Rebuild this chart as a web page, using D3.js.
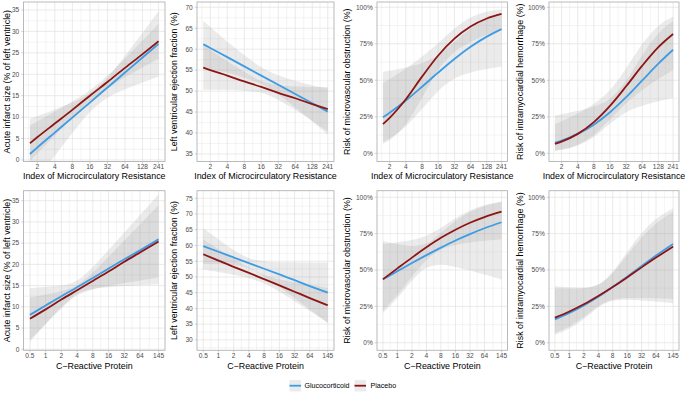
<!DOCTYPE html>
<html><head><meta charset="utf-8">
<script src="https://cdn.jsdelivr.net/npm/d3@7"></script>
<style>
body{margin:0;background:#fff}
svg{display:block}
text{font-family:"Liberation Sans",Arial,Helvetica,sans-serif}
</style>
</head><body>
<svg id="chart" width="685" height="394"></svg>
<script>
// ---------------- data ----------------
const imrX = [1.5, 2, 4, 8, 16, 32, 64, 128, 241];
const crpX = [0.5, 1, 2, 4, 8, 16, 32, 64, 145];
const imrTicks = [2, 4, 8, 16, 32, 64, 128, 241];
const crpTicks = [0.5, 1, 2, 4, 8, 16, 32, 64, 145];
const infarctTicks = [0, 5, 10, 15, 20, 25, 30, 35];
const lvefTicksTop = [35, 40, 45, 50, 55, 60, 65, 70];
const lvefTicksBottom = [30, 35, 40, 45, 50, 55, 60, 65, 70, 75];
const pctTicks = [0, 25, 50, 75, 100];
const seriesNames = ["Glucocorticoid", "Placebo"];

// Panel 1: infarct size vs IMR
const p1GlucoFit = [1.4, 2.9, 6.4, 9.9, 13.4, 16.9, 20.4, 23.9, 27.1];
const p1GlucoLo  = [-6.8, -4.5, 1.0, 6.3, 11.2, 14.5, 16.5, 18.1, 19.5];
const p1GlucoHi  = [9.6, 10.2, 11.8, 13.4, 15.6, 19.2, 24.3, 29.7, 34.7];
const p1PlacFit  = [3.9, 5.3, 8.5, 11.7, 15.0, 18.2, 21.5, 24.7, 27.7];
const p1PlacLo   = [-0.3, 1.5, 5.7, 9.8, 13.7, 16.7, 19.3, 21.6, 23.6];
const p1PlacHi   = [8.1, 9.0, 11.3, 13.7, 16.3, 19.7, 23.7, 27.9, 31.8];
// Panel 2: LVEF vs IMR
const p2GlucoFit = [61.2, 60.3, 58.1, 55.9, 53.7, 51.5, 49.3, 47.1, 45.1];
const p2GlucoLo  = [55.7, 55.3, 54.4, 53.2, 51.7, 49.2, 46.1, 42.8, 39.6];
const p2GlucoHi  = [66.7, 65.3, 61.8, 58.6, 55.7, 53.8, 52.5, 51.4, 50.6];
const p2PlacFit  = [55.6, 55.0, 53.7, 52.3, 51.0, 49.6, 48.3, 46.9, 45.7];
const p2PlacLo   = [50.3, 50.3, 50.3, 50.1, 49.6, 47.9, 45.5, 42.9, 40.4];
const p2PlacHi   = [60.9, 59.8, 57.1, 54.6, 52.4, 51.4, 51.1, 51.0, 51.0];
// Panel 3: MVO risk vs IMR (%)
const p3GlucoFit = [24.7, 27.8, 36.2, 45.6, 55.3, 64.6, 72.9, 79.9, 85.0];
const p3GlucoLo  = [7.8, 10.2, 18.5, 30.3, 42.7, 51.0, 55.3, 57.8, 59.5];
const p3GlucoHi  = [55.8, 56.6, 58.7, 61.8, 67.3, 76.2, 85.5, 92.0, 95.6];
const p3PlacFit  = [20.0, 24.3, 37.0, 52.5, 67.0, 78.5, 86.8, 92.3, 95.4];
const p3PlacLo   = [6.4, 9.1, 19.9, 38.0, 57.3, 69.4, 76.3, 81.3, 85.0];
const p3PlacHi   = [47.9, 50.8, 58.1, 66.3, 75.4, 85.4, 93.0, 97.0, 98.7];
// Panel 4: IMH risk vs IMR (%)
const p4GlucoFit = [7.3, 8.7, 13.3, 19.6, 28.1, 38.4, 49.9, 61.4, 70.9];
const p4GlucoLo  = [1.8, 2.4, 5.4, 11.2, 20.3, 28.2, 32.6, 35.6, 37.9];
const p4GlucoHi  = [25.9, 26.8, 29.1, 32.1, 37.4, 49.6, 67.2, 82.0, 90.6];
const p4PlacFit  = [6.4, 8.0, 13.3, 21.4, 32.5, 45.9, 60.0, 72.7, 81.7];
const p4PlacLo   = [1.8, 2.6, 5.9, 12.6, 23.1, 34.3, 43.2, 50.8, 57.1];
const p4PlacHi   = [20.1, 22.0, 27.2, 33.9, 43.4, 58.1, 74.8, 87.2, 93.7];
// Panel 5: infarct size vs CRP
const p5GlucoFit = [8.1, 10.3, 12.5, 14.6, 16.8, 19.0, 21.2, 23.3, 25.9];
const p5GlucoLo  = [1.8, 5.9, 9.9, 13.0, 14.2, 14.6, 14.9, 15.1, 15.3];
const p5GlucoHi  = [14.4, 14.7, 15.0, 16.2, 19.4, 23.4, 27.5, 31.6, 36.5];
const p5PlacFit  = [7.2, 9.4, 11.7, 13.9, 16.1, 18.3, 20.6, 22.8, 25.4];
const p5PlacLo   = [2.2, 6.0, 9.6, 12.7, 14.1, 14.9, 15.6, 16.2, 16.9];
const p5PlacHi   = [12.2, 12.9, 13.7, 15.1, 18.1, 21.8, 25.6, 29.4, 33.9];
// Panel 6: LVEF vs CRP
const p6GlucoFit = [59.8, 58.0, 56.2, 54.4, 52.6, 50.8, 49.0, 47.1, 45.0];
const p6GlucoLo  = [54.1, 54.0, 53.8, 52.8, 50.1, 46.8, 43.3, 39.7, 35.4];
const p6GlucoHi  = [65.5, 62.0, 58.6, 56.0, 55.0, 54.7, 54.7, 54.6, 54.6];
const p6PlacFit  = [57.2, 55.2, 53.2, 51.3, 49.3, 47.3, 45.3, 43.3, 41.0];
const p6PlacLo   = [52.4, 51.6, 50.7, 49.6, 47.9, 45.3, 42.3, 39.2, 35.5];
const p6PlacHi   = [62.0, 58.9, 55.8, 53.0, 50.7, 49.3, 48.3, 47.5, 46.5];
// Panel 7: MVO risk vs CRP (%)
const p7GlucoFit = [43.6, 49.2, 54.8, 60.2, 65.4, 70.3, 74.7, 78.7, 82.8];
const p7GlucoLo  = [20.5, 30.8, 42.5, 51.6, 53.6, 52.1, 49.6, 46.9, 43.5];
const p7GlucoHi  = [69.9, 67.8, 66.5, 68.2, 75.6, 83.7, 89.9, 94.0, 96.8];
const p7PlacFit  = [43.6, 51.1, 58.5, 65.6, 72.1, 77.7, 82.5, 86.4, 90.1];
const p7PlacLo   = [22.1, 32.9, 45.3, 56.8, 64.0, 67.2, 68.9, 70.1, 71.2];
const p7PlacHi   = [67.8, 69.0, 70.6, 73.5, 79.0, 85.6, 90.9, 94.5, 97.1];
// Panel 8: IMH risk vs CRP (%)
const p8GlucoFit = [16.1, 20.5, 25.7, 31.6, 38.3, 45.4, 52.7, 59.9, 67.9];
const p8GlucoLo  = [5.5, 9.7, 16.3, 24.3, 28.8, 29.5, 29.1, 28.3, 27.2];
const p8GlucoHi  = [38.9, 38.1, 37.9, 40.0, 48.8, 62.3, 75.2, 85.0, 92.3];
const p8PlacFit  = [17.2, 21.5, 26.4, 32.1, 38.3, 44.9, 51.8, 58.5, 66.1];
const p8PlacLo   = [6.8, 11.2, 17.7, 25.1, 29.5, 30.7, 30.8, 30.6, 30.1];
const p8PlacHi   = [37.2, 37.1, 37.5, 39.9, 47.9, 60.1, 72.1, 81.9, 89.8];

// ---------------- layout & style ----------------
const colors = {Glucocorticoid: "#3E9CE5", Placebo: "#8E1515"};
const ribbonFill = "#999999", ribbonOpacity = 0.2;
const cols = [
  {L: 23.5, R: 165,   ty: 10.3},
  {L: 197,  R: 334,   ty: 177.3},
  {L: 377,  R: 507.5, ty: 350.3},
  {L: 549,  R: 679,   ty: 522.8}
];
const rows = [
  {T: 2,     B: 161.5, tickBase: 168.7, titleBase: 179},
  {T: 190.7, B: 350.3, tickBase: 358.3, titleBase: 368.7}
];
const imrLab = "Index of Microcirculatory Resistance";
const crpLab = "C\u2212Reactive Protein";

const panels = [
  {row:0,col:0,xv:imrX,xt:imrTicks,xlab:imrLab,ylab:"Acute infarct size (% of left ventricle)",yd:[-0.35,36.86],yt:infarctTicks,pct:false,
   s:[[p1GlucoFit,p1GlucoLo,p1GlucoHi],[p1PlacFit,p1PlacLo,p1PlacHi]]},
  {row:0,col:1,xv:imrX,xt:imrTicks,xlab:imrLab,ylab:"Left ventricular ejection fraction (%)",yd:[33.21,71.26],yt:lvefTicksTop,pct:false,
   s:[[p2GlucoFit,p2GlucoLo,p2GlucoHi],[p2PlacFit,p2PlacLo,p2PlacHi]]},
  {row:0,col:2,xv:imrX,xt:imrTicks,xlab:imrLab,ylab:"Risk of microvascular obstruction (%)",yd:[-5.6,103.6],yt:pctTicks,pct:true,
   s:[[p3GlucoFit,p3GlucoLo,p3GlucoHi],[p3PlacFit,p3PlacLo,p3PlacHi]]},
  {row:0,col:3,xv:imrX,xt:imrTicks,xlab:imrLab,ylab:"Risk of intramyocardial hemorrhage (%)",yd:[-5.6,103.6],yt:pctTicks,pct:true,
   s:[[p4GlucoFit,p4GlucoLo,p4GlucoHi],[p4PlacFit,p4PlacLo,p4PlacHi]]},
  {row:1,col:0,xv:crpX,xt:crpTicks,xlab:crpLab,ylab:"Acute infarct size (% of left ventricle)",yd:[-0.24,37.35],yt:infarctTicks,pct:false,
   s:[[p5GlucoFit,p5GlucoLo,p5GlucoHi],[p5PlacFit,p5PlacLo,p5PlacHi]]},
  {row:1,col:1,xv:crpX,xt:crpTicks,xlab:crpLab,ylab:"Left ventricular ejection fraction (%)",yd:[26.7,77.4],yt:lvefTicksBottom,pct:false,
   s:[[p6GlucoFit,p6GlucoLo,p6GlucoHi],[p6PlacFit,p6PlacLo,p6PlacHi]]},
  {row:1,col:2,xv:crpX,xt:crpTicks,xlab:crpLab,ylab:"Risk of microvascular obstruction (%)",yd:[-5.2,104.5],yt:pctTicks,pct:true,
   s:[[p7GlucoFit,p7GlucoLo,p7GlucoHi],[p7PlacFit,p7PlacLo,p7PlacHi]]},
  {row:1,col:3,xv:crpX,xt:crpTicks,xlab:crpLab,ylab:"Risk of intramyocardial hemorrhage (%)",yd:[-5.2,104.5],yt:pctTicks,pct:true,
   s:[[p8GlucoFit,p8GlucoLo,p8GlucoHi],[p8PlacFit,p8PlacLo,p8PlacHi]]}
];

const svg = d3.select("#chart");
svg.append("rect").attr("width",685).attr("height",394).attr("fill","#fff");

function minorBreaks(major, lo, hi){
  const b = major.slice();
  const bd = b[1]-b[0];
  if (lo < b[0]) b.unshift(b[0]-bd);
  if (hi > b[b.length-1]) b.push(b[b.length-1]+bd);
  const m = [];
  for (let i=0;i<b.length-1;i++) m.push((b[i]+b[i+1])/2);
  return m.filter(v => v>lo && v<hi);
}

panels.forEach((p, idx) => {
  const c = cols[p.col], r = rows[p.row];
  const lx = p.xv.map(Math.log2);
  const lmin = d3.min(lx), lmax = d3.max(lx), e = (lmax-lmin)*0.05;
  const x = d3.scaleLog().base(2).domain([Math.pow(2,lmin-e), Math.pow(2,lmax+e)]).range([c.L, c.R]);
  const y = d3.scaleLinear().domain(p.yd).range([r.B, r.T]);
  const g = svg.append("g");

  // grid
  const xMin = minorBreaks(p.xt.map(Math.log2), lmin-e, lmax+e).map(v=>Math.pow(2,v));
  const yMin = minorBreaks(p.yt, p.yd[0], p.yd[1]);
  const grid = g.append("g");
  grid.selectAll(".xm").data(xMin).join("line")
    .attr("x1",d=>x(d)).attr("x2",d=>x(d)).attr("y1",r.T).attr("y2",r.B)
    .attr("stroke","#DEDEDE").attr("stroke-width",0.35);
  grid.selectAll(".ym").data(yMin).join("line")
    .attr("y1",d=>y(d)).attr("y2",d=>y(d)).attr("x1",c.L).attr("x2",c.R)
    .attr("stroke","#DEDEDE").attr("stroke-width",0.35);
  grid.selectAll(".xM").data(p.xt).join("line")
    .attr("x1",d=>x(d)).attr("x2",d=>x(d)).attr("y1",r.T).attr("y2",r.B)
    .attr("stroke","#DEDEDE").attr("stroke-width",0.65);
  grid.selectAll(".yM").data(p.yt).join("line")
    .attr("y1",d=>y(d)).attr("y2",d=>y(d)).attr("x1",c.L).attr("x2",c.R)
    .attr("stroke","#DEDEDE").attr("stroke-width",0.65);

  // clip
  const cid = "clip"+idx;
  svg.append("clipPath").attr("id",cid).append("rect")
    .attr("x",c.L).attr("y",r.T).attr("width",c.R-c.L).attr("height",r.B-r.T);
  const plot = g.append("g").attr("clip-path",`url(#${cid})`);

  const area = d3.area().curve(d3.curveMonotoneX)
    .x(d=>x(d.x)).y0(d=>y(d.lo)).y1(d=>y(d.hi));
  const line = d3.line().curve(d3.curveMonotoneX).x(d=>x(d.x)).y(d=>y(d.f));

  const sets = p.s.map(([f,lo,hi]) => p.xv.map((xv,i)=>({x:xv,f:f[i],lo:lo[i],hi:hi[i]})));
  sets.forEach(d => {
    plot.append("path").datum(d).attr("d",area)
      .attr("fill",ribbonFill).attr("fill-opacity",ribbonOpacity);
  });
  sets.forEach((d,i) => {
    plot.append("path").datum(d).attr("d",line)
      .attr("fill","none").attr("stroke",colors[seriesNames[i]]).attr("stroke-width",1.8);
  });

  // border
  g.append("rect").attr("x",c.L).attr("y",r.T).attr("width",c.R-c.L).attr("height",r.B-r.T)
    .attr("fill","none").attr("stroke","#B3B3B3").attr("stroke-width",0.9);

  // axis ticks
  g.selectAll(".xt").data(p.xt).join("line")
    .attr("x1",d=>x(d)).attr("x2",d=>x(d)).attr("y1",r.B).attr("y2",r.B+2.2)
    .attr("stroke","#B3B3B3").attr("stroke-width",0.6);
  g.selectAll(".xl").data(p.xt).join("text")
    .attr("x",d=>x(d)).attr("y",r.tickBase).attr("text-anchor","middle")
    .attr("font-size",6.6).attr("fill","#4D4D4D").text(d=>String(d));
  g.selectAll(".yt").data(p.yt).join("line")
    .attr("x1",c.L-2.2).attr("x2",c.L).attr("y1",d=>y(d)).attr("y2",d=>y(d))
    .attr("stroke","#B3B3B3").attr("stroke-width",0.6);
  g.selectAll(".yl").data(p.yt).join("text")
    .attr("x",c.L-4.2).attr("y",d=>y(d)+2.3).attr("text-anchor","end")
    .attr("font-size",6.6).attr("fill","#4D4D4D").text(d=>p.pct? d+"%" : String(d));

  // titles
  g.append("text").attr("x",(c.L+c.R)/2).attr("y",r.titleBase).attr("text-anchor","middle")
    .attr("font-size",8.9).attr("fill","#000").text(p.xlab);
  g.append("text").attr("transform",`translate(${c.ty},${(r.T+r.B)/2}) rotate(-90)`)
    .attr("text-anchor","middle").attr("font-size",8.9).attr("fill","#000").text(p.ylab);
});

// legend
const legendItems = [
  {name: seriesNames[0], kx: 289.5, tx: 304.5},
  {name: seriesNames[1], kx: 354.5, tx: 370.5}
];
const ly = 385.7, kw = 11.5;
const lg = svg.append("g");
legendItems.forEach(it => {
  lg.append("rect").attr("x",it.kx).attr("y",ly-kw/2).attr("width",kw).attr("height",kw)
    .attr("fill",ribbonFill).attr("fill-opacity",ribbonOpacity);
  lg.append("line").attr("x1",it.kx).attr("x2",it.kx+kw).attr("y1",ly).attr("y2",ly)
    .attr("stroke",colors[it.name]).attr("stroke-width",1.8);
  lg.append("text").attr("x",it.tx).attr("y",ly+2.5).attr("font-size",7.1).attr("fill","#000").text(it.name);
});
</script>
</body></html>
